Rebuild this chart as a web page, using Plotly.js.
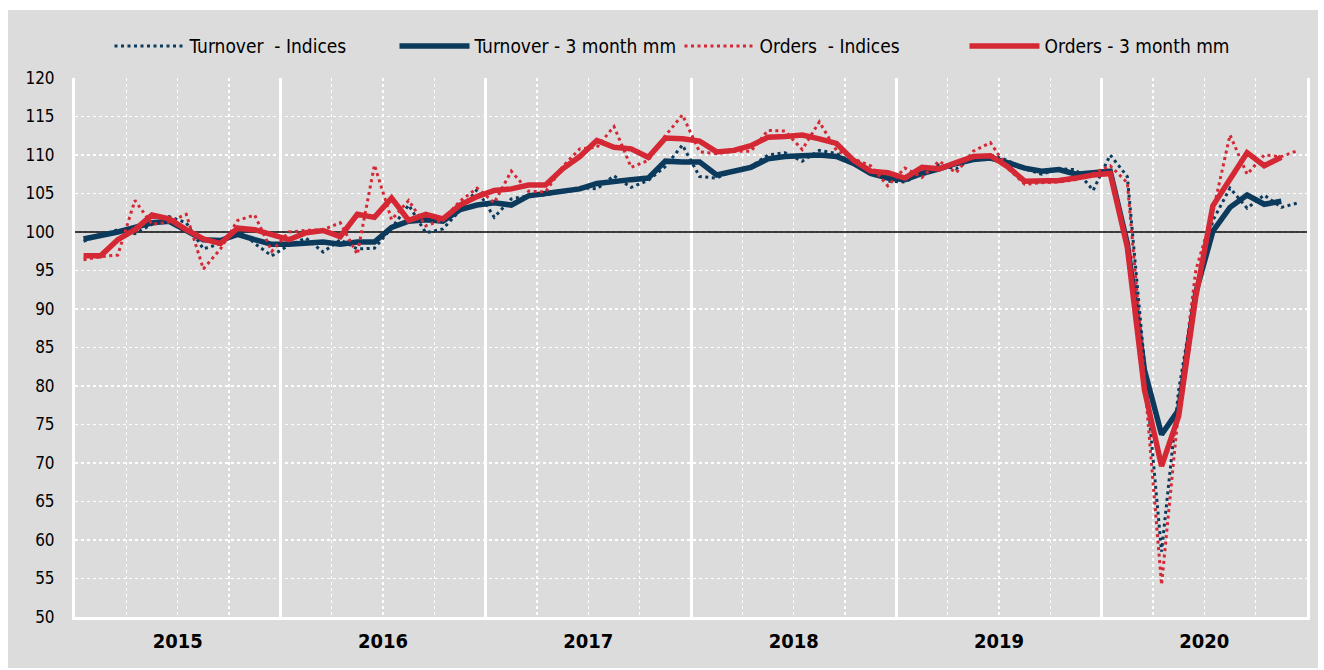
<!DOCTYPE html>
<html>
<head>
<meta charset="utf-8">
<script src="https://cdn.plot.ly/plotly-3.0.1.min.js"></script>
<style>
  html, body { margin: 0; padding: 0; background: #ffffff; width: 1324px; height: 670px; overflow: hidden; }
  #chart { position: absolute; left: 8px; top: 10px; width: 1310px; height: 658px; }
</style>
</head>
<body>
<div id="chart"></div>
<script>
// ---- data (monthly, Jan 2015 - Dec 2020) ----
const years = ['2015', '2016', '2017', '2018', '2019', '2020'];

const turnoverIndices = [
  98.8, 99.5, 100.3, 99.8, 101.0, 102.0, 101.2, 97.8, 98.5, 100.6, 98.5, 96.9,
  98.3, 99.2, 97.4, 99.0, 97.8, 97.9, 100.5, 103.5, 99.9, 100.4, 102.8, 105.5,
  101.9, 104.3, 104.7, 104.8, 105.3, 105.8, 105.6, 107.3, 105.8, 106.7, 108.5, 111.3,
  107.2, 107.0, 108.0, 108.5, 110.0, 110.3, 109.2, 110.6, 110.2, 108.9, 108.0, 106.6,
  106.5, 107.6, 108.7, 108.2, 109.7, 110.0, 109.3, 108.2, 107.5, 108.2, 108.1, 105.4,
  110.0, 107.2, 83.0, 58.5, 79.5, 92.5, 101.5, 105.7, 103.1, 104.8, 103.2, 103.8
];

const turnover3mm = [
  99.1, 99.5, 100.0, 100.6, 101.2, 101.4, 100.2, 99.0, 98.9, 99.7, 99.0, 98.4,
  98.4, 98.6, 98.7, 98.4, 98.7, 98.7, 100.6, 101.4, 101.6, 101.4, 102.9, 103.5,
  103.8, 103.5, 104.7, 105.0, 105.3, 105.6, 106.3, 106.6, 106.8, 107.0, 109.2, 109.1,
  109.1, 107.4, 107.9, 108.4, 109.5, 109.8, 109.9, 110.0, 109.8, 108.9, 107.6, 107.0,
  106.8, 107.6, 108.2, 108.9, 109.4, 109.6, 109.0, 108.3, 107.9, 108.1, 107.5, 107.7,
  107.9, 98.5, 82.1, 73.7, 76.9, 92.1, 100.1, 103.2, 104.8, 103.6, 104.0, null
];

const ordersIndices = [
  96.4, 96.8, 97.0, 104.1, 101.0, 101.3, 102.3, 95.2, 97.8, 101.5, 102.2, 97.5,
  100.0, 100.2, 100.3, 101.2, 97.1, 108.7, 101.6, 104.1, 100.8, 101.6, 104.0, 105.7,
  103.8, 107.9, 105.3, 105.2, 108.5, 110.8, 111.0, 113.7, 108.4, 109.3, 112.5, 115.2,
  110.4, 110.2, 110.5, 110.5, 113.2, 113.1, 110.7, 114.3, 110.6, 109.5, 108.6, 106.0,
  108.3, 107.1, 109.2, 107.7, 110.5, 111.6, 108.3, 106.2, 106.4, 106.5, 106.8, 107.6,
  108.6, 106.4, 81.0, 54.2, 77.0, 95.0, 102.6, 112.6, 107.5, 110.0, 109.8, 110.6
];

const orders3mm = [
  96.9, 96.9, 99.0, 100.3, 102.2, 101.7, 100.3, 99.1, 98.5, 100.5, 100.3, 99.7,
  99.0, 99.9, 100.2, 99.4, 102.3, 101.9, 104.4, 101.5, 102.3, 101.7, 103.5, 104.6,
  105.4, 105.6, 106.1, 106.1, 108.2, 109.8, 111.9, 111.0, 110.8, 109.7, 112.2, 112.1,
  111.8, 110.4, 110.6, 111.2, 112.3, 112.4, 112.6, 112.1, 111.5, 109.3, 107.9, 107.7,
  107.0, 108.4, 108.2, 109.0, 109.8, 109.9, 108.5, 106.6, 106.6, 106.7, 107.0, 107.4,
  107.6, 98.0, 79.5, 69.6, 76.1, 91.6, 103.4, 106.8, 110.3, 108.6, 109.7, null
];

const seriesNames = ['Turnover\u00a0 - Indices', 'Turnover - 3 month mm', 'Orders\u00a0 - Indices', 'Orders - 3 month mm'];
const baseline = 100;

// month positions: each month is one unit wide, point at the middle of its slot
const months = [];
years.forEach(y => { for (let m = 1; m <= 12; m++) months.push(y + '-' + String(m).padStart(2, '0')); });
const xPos = months.map((_, i) => i + 0.5);
const xMax = years.length * 12;
const yearBounds = years.map((_, i) => i * 12).concat([xMax]);
const yearCenters = years.map((_, i) => i * 12 + 6);

const BLUE = '#0b3a5d';
const RED = '#d52835';
const FONT = '"Liberation Sans Narrow", "Arial Narrow", "DejaVu Sans Condensed", sans-serif';

const traces = [
  { x: [0, xMax], y: [baseline, baseline], type: 'scatter', mode: 'lines', showlegend: false,
    hoverinfo: 'skip', line: { color: '#000000', width: 1.5 } },
  { x: xPos, y: turnoverIndices, name: seriesNames[0], type: 'scatter', mode: 'lines',
    line: { color: BLUE, width: 3, dash: '3px,3.5px' } },
  { x: xPos, y: turnover3mm, name: seriesNames[1], type: 'scatter', mode: 'lines',
    line: { color: BLUE, width: 5.5 } },
  { x: xPos, y: ordersIndices, name: seriesNames[2], type: 'scatter', mode: 'lines',
    line: { color: RED, width: 3, dash: '3px,3.5px' } },
  { x: xPos, y: orders3mm, name: seriesNames[3], type: 'scatter', mode: 'lines',
    line: { color: RED, width: 5.5 } },
  // carrier for the year-label axis
  { x: [null], y: [null], xaxis: 'x2', type: 'scatter', mode: 'lines', showlegend: false, hoverinfo: 'skip' }
];

const layout = {
  width: 1310, height: 658,
  paper_bgcolor: '#dcdcdc', plot_bgcolor: '#dcdcdc',
  margin: { l: 67, r: 11, t: 68, b: 51, pad: 0 },
  font: { family: FONT, size: 17, color: '#000000' },
  showlegend: true,
  legend: {
    orientation: 'h', x: 0.028, xanchor: 'left', y: 1.059, yanchor: 'middle',
    bgcolor: 'rgba(0,0,0,0)', itemwidth: 70, entrywidth: 200, entrywidthmode: 'pixels',
    font: { family: FONT, size: 19, color: '#000' }, traceorder: 'normal'
  },
  xaxis: {
    range: [0, xMax], tickvals: yearBounds, showticklabels: false,
    showgrid: true, gridcolor: '#ffffff', gridwidth: 3,
    minor: { dtick: 3, tick0: 0, showgrid: true, gridcolor: '#ffffff', griddash: 'dot', gridwidth: 1.5, ticks: '' },
    showline: true, linecolor: '#ffffff', linewidth: 3, zeroline: false, ticks: '', fixedrange: true
  },
  xaxis2: {
    overlaying: 'x', anchor: 'y', side: 'bottom', range: [0, xMax],
    tickvals: yearCenters, ticktext: years, showgrid: false, zeroline: false, showline: false,
    ticks: '', ticklabelstandoff: 10,
    tickfont: { family: FONT, size: 20, color: '#000', weight: 'bold' }
  },
  yaxis: {
    range: [50, 120], tick0: 50, dtick: 5,
    showgrid: true, gridcolor: '#ffffff', griddash: 'dot', gridwidth: 1.5,
    showline: true, mirror: true, linecolor: '#ffffff', linewidth: 3,
    zeroline: false, ticks: '', ticklabelstandoff: 14,
    tickfont: { family: FONT, size: 17, color: '#000' }, fixedrange: true
  }
};

Plotly.newPlot('chart', traces, layout, { displayModeBar: false, staticPlot: true });
</script>
</body>
</html>
